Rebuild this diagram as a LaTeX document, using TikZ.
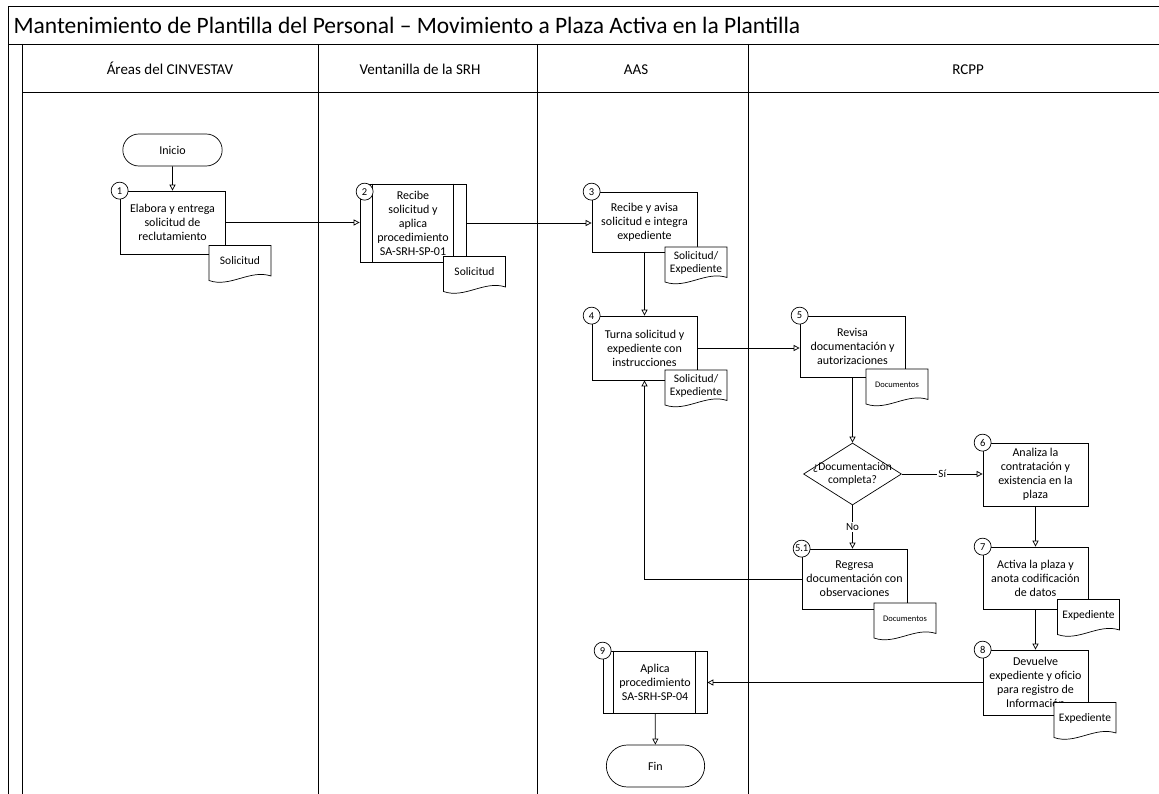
\documentclass[tikz,border=0pt]{standalone}
\usepackage{fontspec}
\setmainfont{Carlito}
\usetikzlibrary{shapes.geometric,shapes.misc,arrows.meta,calc}
\tikzset{
 ln/.style={line width=0.7pt, draw=black},
 lane/.style={line width=0.7pt, draw=black},
 box/.style={ln, fill=white, minimum width=105pt, minimum height=62pt, align=center, inner sep=1pt, font=\fontsize{12}{14}\selectfont},
 num/.style={ln, circle, fill=white, minimum size=17pt, inner sep=0pt, font=\fontsize{10.5}{11}\selectfont},
 doctxt/.style={align=center, inner sep=0pt, font=\fontsize{11.5}{13}\selectfont},
 docsmall/.style={align=center, inner sep=0pt, font=\fontsize{8.5}{10}\selectfont},
 term/.style={ln, rounded rectangle, fill=white, minimum width=106pt, minimum height=32pt, font=\fontsize{12}{14}\selectfont},
 dec/.style={ln, diamond, fill=white, minimum width=98pt, minimum height=62pt, inner sep=0pt},
 dectxt/.style={align=center, inner sep=0pt, font=\fontsize{11.5}{13.5}\selectfont},
 flow/.style={ln, -{Triangle[open,length=6pt,width=6pt]}},
 lbl/.style={fill=white, inner sep=1pt, font=\fontsize{11}{12}\selectfont},
 hdr/.style={anchor=base, font=\fontsize{15}{17}\selectfont},
}
\newcommand{\docshape}[5]{%
 \coordinate (#1c) at (#2,#3);
 \draw[ln, fill=white] ($(#1c)+(-31,17.5)$) -- ($(#1c)+(-31,-17.5)$) -- ($(#1c)+(31,-17.5)$) -- ($(#1c)+(31,13)$) .. controls ($(#1c)+(10,6)$) and ($(#1c)+(-10,25)$) .. ($(#1c)+(-31,17.5)$) -- cycle;
 \node[#4] (#1) at ($(#1c)+(0,-2)$) {#5};}
\begin{document}
\begin{tikzpicture}[x=1pt,y=-1pt]
\useasboundingbox (0,0) rectangle (1159,794);
\fill[white] (0,0) rectangle (1159,794);
\begin{scope}
\clip (0,0) rectangle (1159,794);
\draw[lane] (1200,6) -- (8,6) -- (8,800);
\draw[lane] (8,44) -- (1200,44);
\draw[lane] (22,92) -- (1200,92);
\draw[lane] (22,44) -- (22,800);
\draw[lane] (318,44) -- (318,800);
\draw[lane] (537,44) -- (537,800);
\draw[lane] (748,44) -- (748,800);
\end{scope}
\node[anchor=west, font=\fontsize{23.5}{26}\selectfont] (title) at (10,25) {Mantenimiento de Plantilla del Personal – Movimiento a Plaza Activa en la Plantilla};
\node[hdr] (h1) at (170,75) {Áreas del CINVESTAV};
\node[hdr] (h2) at (420,75) {Ventanilla de la SRH};
\node[hdr] (h3) at (636,75) {AAS};
\node[hdr] (h4) at (968,75) {RCPP};

\node[term] (ini) at (172.5,150) {Inicio};
\node[box, minimum height=63pt] (n1) at (172.5,222.5) {Elabora y entrega\\solicitud de\\reclutamiento};
\node[box, minimum width=106pt, minimum height=78pt] (n2) at (413,223) {Recibe\\solicitud y\\aplica\\procedimiento\\SA-SRH-SP-01};
\draw[ln] ([xshift=13pt]n2.north west) -- ([xshift=13pt]n2.south west);
\draw[ln] ([xshift=-13pt]n2.north east) -- ([xshift=-13pt]n2.south east);
\node[box, minimum height=60pt] (n3) at (644.5,222) {Recibe y avisa\\solicitud e integra\\expediente};
\node[box, minimum height=64pt] (n4) at (644.5,348) {Turna solicitud y\\expediente con\\instrucciones};
\node[box, minimum height=61pt] (n5) at (852.5,346.5) {Revisa\\documentación y\\autorizaciones};
\node[dec] (dec) at (852.5,474) {};
\node[dectxt] (dect) at (852.5,474) {¿Documentación\\completa?};
\node[box, minimum height=63pt] (n6) at (1035.5,474.5) {Analiza la\\contratación y\\existencia en la\\plaza};
\node[box, minimum height=60pt] (n51) at (854.5,579) {Regresa\\documentación con\\observaciones};
\node[box] (n7) at (1035.5,578) {Activa la plaza y\\anota codificación\\de datos};
\node[box, minimum height=65pt] (n8) at (1035.5,682.5) {Devuelve\\expediente y oficio\\para registro de\\Información};
\node[box, minimum width=104pt] (n9) at (655,682) {Aplica\\procedimiento\\SA-SRH-SP-04};
\draw[ln] ([xshift=11pt]n9.north west) -- ([xshift=11pt]n9.south west);
\draw[ln] ([xshift=-12pt]n9.north east) -- ([xshift=-12pt]n9.south east);
\node[term, minimum width=105pt, minimum height=42pt] (fin) at (655.5,766) {Fin};

\draw[flow] (ini) -- (n1);
\draw[flow] (n1.east) -- (n1.east -| n2.west);
\draw[flow] (n2.east) -- (n2.east -| n3.west);
\draw[flow] (n3) -- (n4);
\draw[flow] (n4.east) -- (n4.east -| n5.west);
\draw[flow] (n5) -- (dec);
\draw[flow] (dec.east) -- (dec.east -| n6.west) node[lbl, midway] {Sí};
\draw[flow] (dec.south) -- (dec.south |- n51.north) node[lbl, midway] {No};
\draw[flow] (n51.west) -| (n4.south);
\draw[flow] (n6) -- (n7);
\draw[flow] (n7) -- (n8);
\draw[flow] (n8.west) -- (n8.west -| n9.east);
\draw[flow] (n9) -- (fin);

\docshape{d1}{240}{263}{doctxt}{Solicitud}
\docshape{d2}{474.5}{274}{doctxt}{Solicitud}
\docshape{d3}{696}{264.5}{doctxt}{Solicitud/\\Expediente}
\docshape{d4}{696}{387.5}{doctxt}{Solicitud/\\Expediente}
\docshape{d5}{897}{386.5}{docsmall}{Documentos}
\docshape{d51}{905}{620.5}{docsmall}{Documentos}
\docshape{d7}{1088.5}{617}{doctxt}{Expediente}
\docshape{d8}{1085}{720}{doctxt}{Expediente}

\node[num] (c1) at (n1.north west) {1};
\node[num] (c2) at ([xshift=5pt,yshift=-8pt]n2.north west) {2};
\node[num] (c3) at (n3.north west) {3};
\node[num] (c4) at (n4.north west) {4};
\node[num] (c5) at (n5.north west) {5};
\node[num] (c51) at (n51.north west) {5.1};
\node[num] (c6) at (n6.north west) {6};
\node[num] (c7) at (n7.north west) {7};
\node[num] (c8) at (n8.north west) {8};
\node[num] (c9) at (n9.north west) {9};
\end{tikzpicture}
\end{document}
